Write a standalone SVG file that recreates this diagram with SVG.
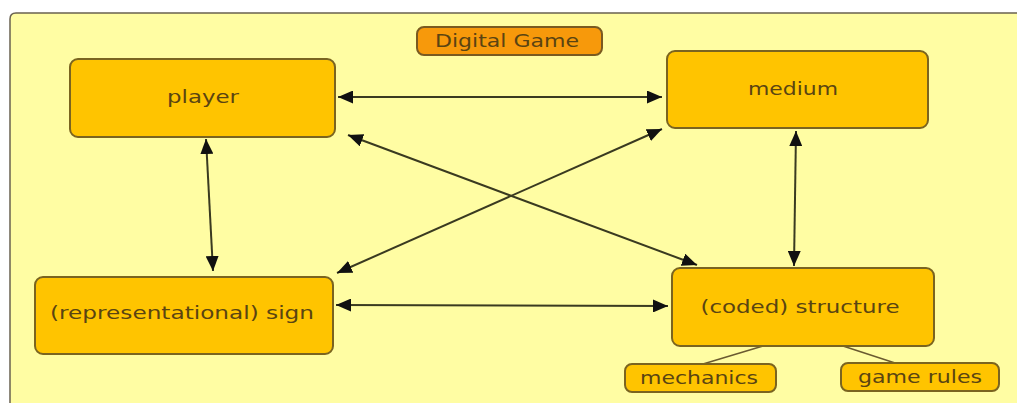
<svg xmlns="http://www.w3.org/2000/svg" width="1017" height="403" viewBox="0 0 1017 403">
<defs>
<marker id="ah" viewBox="0 0 15 13" refX="15" refY="6.5" markerWidth="15" markerHeight="13" markerUnits="userSpaceOnUse" orient="auto-start-reverse">
<path d="M0,0 L15,6.5 L0,13 Z" fill="#111"/>
</marker>
<style>
.node{fill:#FFC400;stroke:#7a6420;stroke-width:2}
.small{fill:#FFC400;stroke:#7a6420;stroke-width:2}
.title{fill:#F7990B;stroke:#7a5a20;stroke-width:2}
.lbl{font-family:"DejaVu Sans",Verdana,sans-serif;font-size:17px;fill:#5a4412;text-anchor:middle}
.conn{stroke:#3a3a20;stroke-width:2;fill:none}
.link{stroke:#6a5a30;stroke-width:1.5;fill:none}
</style>
</defs>
<rect x="0" y="0" width="1017" height="403" fill="#ffffff"/>
<path d="M10,403 L10,19 Q10,13 16,13 L1017,13 L1017,403 Z" fill="#FFFDA3" stroke="none"/>
<path d="M10,403 L10,19 Q10,13 16,13 L1017,13" fill="none" stroke="#6a6250" stroke-width="1.5"/>

<g id="connectors">
<line class="conn" x1="338" y1="97" x2="662" y2="97" marker-start="url(#ah)" marker-end="url(#ah)"/>
<line class="conn" x1="206" y1="139" x2="213" y2="271" marker-start="url(#ah)" marker-end="url(#ah)"/>
<line class="conn" x1="796" y1="131" x2="794" y2="266" marker-start="url(#ah)" marker-end="url(#ah)"/>
<line class="conn" x1="348" y1="135" x2="697" y2="265" marker-start="url(#ah)" marker-end="url(#ah)"/>
<line class="conn" x1="662" y1="129" x2="337" y2="273" marker-start="url(#ah)" marker-end="url(#ah)"/>
<line class="conn" x1="336" y1="305" x2="668" y2="306" marker-start="url(#ah)" marker-end="url(#ah)"/>
<line class="link" x1="763" y1="346" x2="703" y2="364"/>
<line class="link" x1="843" y1="346" x2="895" y2="363"/>
</g>

<g id="digital-game">
<rect class="title" x="417" y="27" width="185" height="28" rx="7"/>
<text class="lbl" x="507" y="47" textLength="144" lengthAdjust="spacingAndGlyphs">Digital Game</text>
</g>
<g id="player">
<rect class="node" x="70" y="59" width="265" height="78" rx="8"/>
<text class="lbl" x="203" y="103" textLength="72" lengthAdjust="spacingAndGlyphs">player</text>
</g>
<g id="medium">
<rect class="node" x="667" y="51" width="261" height="77" rx="8"/>
<text class="lbl" x="793" y="95" textLength="90" lengthAdjust="spacingAndGlyphs">medium</text>
</g>
<g id="sign">
<rect class="node" x="35" y="277" width="298" height="77" rx="8"/>
<text class="lbl" x="182" y="319" textLength="264" lengthAdjust="spacingAndGlyphs">(representational) sign</text>
</g>
<g id="structure">
<rect class="node" x="672" y="268" width="262" height="78" rx="8"/>
<text class="lbl" x="800" y="313" textLength="199" lengthAdjust="spacingAndGlyphs">(coded) structure</text>
</g>
<g id="mechanics">
<rect class="small" x="625" y="364" width="151" height="28" rx="7"/>
<text class="lbl" x="699" y="384" textLength="118" lengthAdjust="spacingAndGlyphs">mechanics</text>
</g>
<g id="game-rules">
<rect class="small" x="841" y="363" width="158" height="28" rx="7"/>
<text class="lbl" x="920" y="383" textLength="124" lengthAdjust="spacingAndGlyphs">game rules</text>
</g>
</svg>
